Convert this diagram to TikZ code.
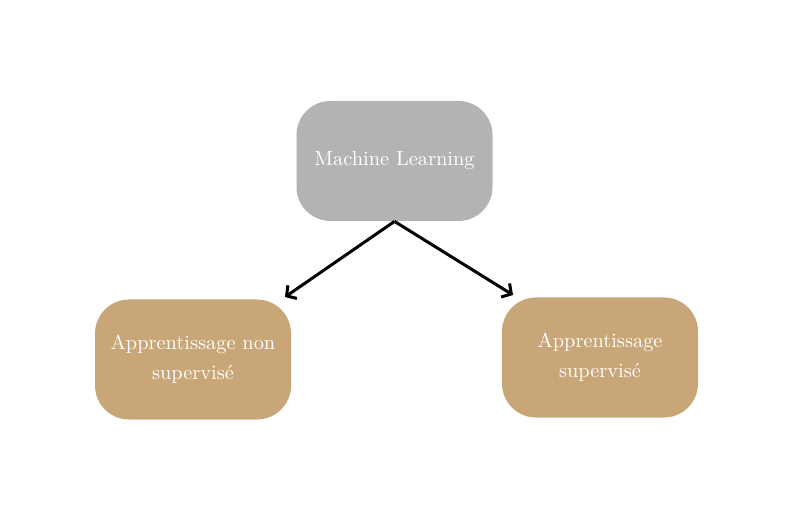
\documentclass[tikz,border=0pt]{standalone}
\usetikzlibrary{arrows, arrows.meta, positioning}
\definecolor{gris}{RGB}{179,179,179}
\definecolor{sable}{RGB}{201,166,120}
\tikzstyle{boite} = [rounded corners=17pt, minimum width=98pt, minimum height=60pt, text=white, align=center, inner sep=0pt, font=\fontsize{10.2}{15}\selectfont]
\tikzstyle{fleche} = [-{Straight Barb[length=3.5pt,width=8pt]},line width=1.5pt]

\begin{document}
\begin{tikzpicture}[x=0.5pt, y=-0.5pt]
	\useasboundingbox (0,0) rectangle (790,517);

	\node[boite, fill=gris] (ML) at (394.5,161) {Machine Learning};

	\node[boite, fill=sable] (NS) at (193,359.5) {Apprentissage non\\supervisé};
	\node[boite, fill=sable] (S) at (600,357.5) {Apprentissage\\supervisé};

	\coordinate (FNS) at (285,297);
	\coordinate (FS) at (513,295);

	\draw[fleche] (ML.south) -- (FNS);
	\draw[fleche] (ML.south) -- (FS);
\end{tikzpicture}
\end{document}
